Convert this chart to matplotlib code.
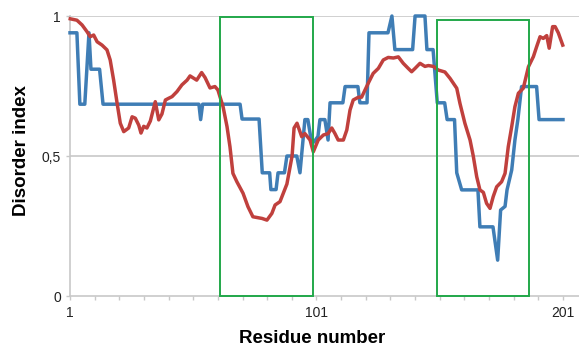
import matplotlib
matplotlib.use("Agg")
import matplotlib.pyplot as plt
from matplotlib.patches import Rectangle

# Disorder predictions (residue, index)
blue_res = [1, 3.8, 5, 7, 8.7, 9.5, 13, 14.4, 53.3, 54, 54.8, 70, 70.8, 77.7, 79, 82,
            82.5, 84.6, 85.4, 88, 89, 93, 94.3, 96.3, 97.5, 98.8, 100, 101.6, 102.4,
            104.4, 105.7, 106.5, 111.7, 112.6, 117.8, 118.6, 121.5, 122.3, 130, 131.6,
            132.8, 140, 141, 145, 145.8, 148.3, 150, 153, 154, 157, 157.9, 159.9, 166.5,
            167.3, 172.6, 174.5, 175.7, 177.5, 178.3, 180.2, 181.5, 182.7, 184.2, 190.3,
            191.3, 201]
blue_val = [0.94, 0.94, 0.685, 0.685, 0.94, 0.81, 0.81, 0.685, 0.685, 0.63, 0.685, 0.685,
            0.632, 0.632, 0.44, 0.44, 0.38, 0.38, 0.44, 0.44, 0.5, 0.5, 0.44, 0.63, 0.63,
            0.56, 0.55, 0.57, 0.63, 0.63, 0.557, 0.69, 0.69, 0.748, 0.748, 0.69, 0.69,
            0.94, 0.94, 1.0, 0.88, 0.88, 1.0, 1.0, 0.88, 0.88, 0.69, 0.69, 0.63, 0.63,
            0.44, 0.379, 0.379, 0.247, 0.247, 0.128, 0.307, 0.32, 0.379, 0.45, 0.557,
            0.63, 0.748, 0.748, 0.63, 0.63]

red_res = [1.1, 3.8, 5.9, 7.9, 9.2, 10.6, 12.0, 14.0, 16.0, 17.3, 18.7, 20.1, 21.4, 22.8,
           24.8, 26.2, 27.5, 28.9, 29.8, 30.9, 32.2, 33.6, 35.6, 37.0, 38.3, 39.7, 41.0,
           42.4, 44.4, 46.4, 48.5, 49.7, 52.4, 54.4, 55.8, 57.8, 59.8, 61.0, 63.1, 64.7,
           65.9, 67.1, 68.7, 71.2, 73.2, 75.2, 78.9, 80.9, 82.9, 84.2, 86.2, 89.0, 91.1,
           91.9, 93.1, 95.0, 96.3, 98.4, 99.7, 101.7, 103.8, 105.7, 107.2, 108.5, 109.8,
           111.9, 113.3, 114.6, 115.9, 118.0, 119.3, 120.7, 122.0, 124.0, 126.1, 128.1,
           130.1, 132.2, 134.2, 136.2, 138.2, 139.6, 141.0, 143.0, 145.0, 146.4, 148.4,
           150.4, 153.1, 155.2, 157.9, 159.2, 161.2, 163.3, 164.6, 166.0, 167.3, 168.7,
           170.0, 171.4, 172.7, 174.1, 176.1, 177.5, 178.8, 180.2, 181.5, 182.9, 184.9,
           187.0, 189.0, 190.3, 191.7, 193.0, 194.4, 195.4, 196.8, 197.8, 199.1, 200.9]
red_val = [0.99, 0.985, 0.968, 0.944, 0.926, 0.932, 0.908, 0.896, 0.879, 0.843, 0.771,
           0.689, 0.617, 0.587, 0.6, 0.64, 0.635, 0.61, 0.582, 0.606, 0.6, 0.625, 0.694,
           0.629, 0.65, 0.7, 0.706, 0.712, 0.73, 0.754, 0.771, 0.786, 0.771, 0.798, 0.78,
           0.743, 0.748, 0.736, 0.676, 0.605, 0.533, 0.438, 0.408, 0.367, 0.319, 0.283,
           0.277, 0.271, 0.295, 0.325, 0.337, 0.4, 0.5, 0.6, 0.617, 0.569, 0.58, 0.557,
           0.515, 0.557, 0.575, 0.58, 0.6, 0.58, 0.557, 0.557, 0.593, 0.664, 0.7, 0.71,
           0.71, 0.736, 0.76, 0.795, 0.813, 0.843, 0.852, 0.85, 0.854, 0.831, 0.813,
           0.801, 0.813, 0.831, 0.82, 0.823, 0.82, 0.807, 0.8, 0.777, 0.742, 0.688,
           0.617, 0.557, 0.5, 0.426, 0.379, 0.37, 0.331, 0.313, 0.355, 0.39, 0.408,
           0.438, 0.533, 0.605, 0.676, 0.724, 0.742, 0.819, 0.855, 0.89, 0.926, 0.92,
           0.93, 0.885, 0.962, 0.962, 0.94, 0.896]

# Highlighted regions (start residue, end residue, top index)
regions = [(62, 99.5, 0.995), (149.8, 187.3, 0.986)]

xticks = [1, 101, 201]
yticks = [0, 0.5, 1]
ytick_labels = ["0", "0,5", "1"]

plt.rcParams["font.family"] = ["Liberation Sans", "DejaVu Sans"]

fig = plt.figure(figsize=(5.79, 3.47), dpi=100)
ax = fig.add_axes([70 / 579, 51 / 347, 509 / 579, 280 / 347])

GRID = "#c8c8c8"
ax.set_xlim(1, 207.5)
ax.set_ylim(0, 1)
for y in yticks[1:]:
    ax.axhline(y, color=GRID, lw=1.2, zorder=1)

ax.plot(blue_res, blue_val, color="#3f7db5", lw=2.5, zorder=3,
        solid_joinstyle="round", clip_on=False)
ax.plot(red_res, red_val, color="#c0403d", lw=2.5, zorder=4,
        solid_joinstyle="round", clip_on=False)

for start, end, top in regions:
    ax.add_patch(Rectangle((start, 0), end - start, top, fill=False,
                           edgecolor="#22a84a", lw=1.4, zorder=5, clip_on=False))

for side in ["top", "right"]:
    ax.spines[side].set_visible(False)
for side in ["left", "bottom"]:
    ax.spines[side].set_color(GRID)
    ax.spines[side].set_linewidth(1.2)

ax.set_xticks(xticks)
ax.set_xticks(list(range(1, 202, 10)), minor=True)
ax.set_yticks(yticks)
ax.set_yticklabels(ytick_labels)
ax.tick_params(axis="both", which="both", colors=GRID, labelcolor="#222222",
               labelsize=10, length=3, width=1)
ax.tick_params(axis="x", pad=4)

ax.set_xlabel("Residue number", fontsize=13.5, fontweight="bold")
ax.set_ylabel("Disorder index", fontsize=13.5, fontweight="bold")
ax.xaxis.set_label_coords(0.476, -0.12)
ax.yaxis.set_label_coords(-0.078, 0.521)

fig.savefig("out.png", dpi=100)
